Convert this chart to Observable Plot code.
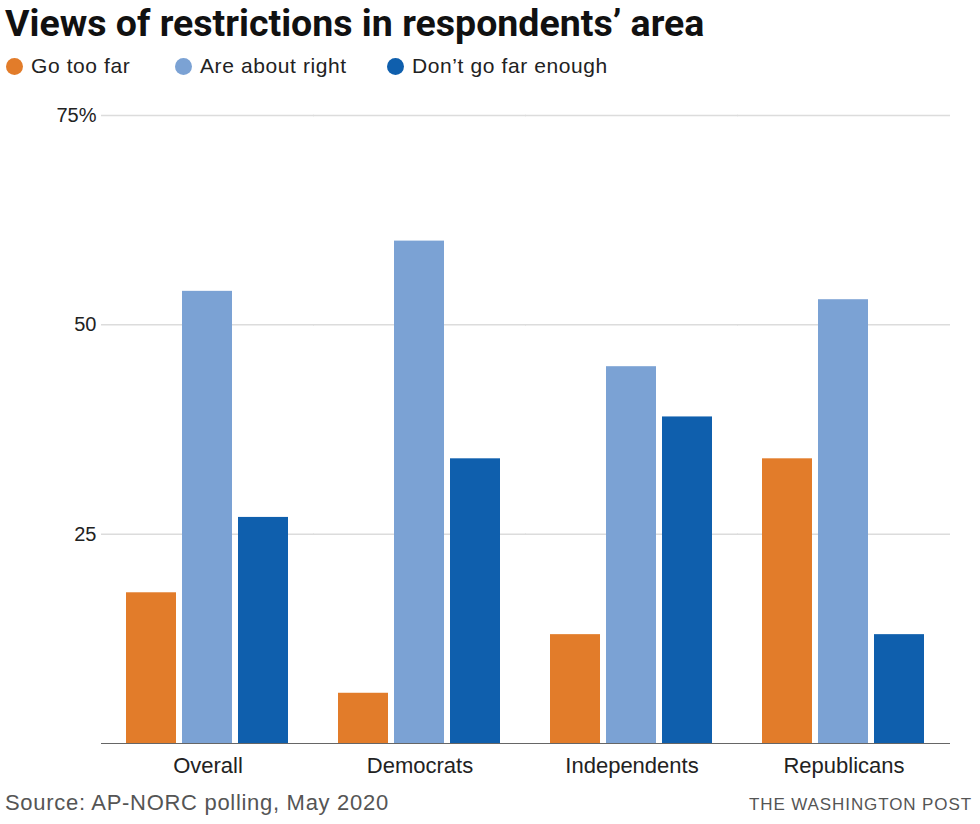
<!DOCTYPE html>
<html>
<head>
<meta charset="utf-8">
<script src="https://cdn.jsdelivr.net/npm/d3@7"></script>
<script src="https://cdn.jsdelivr.net/npm/@observablehq/plot@0.6"></script>
<style>
  body { margin: 0; background: #fff; font-family: "Liberation Sans", Arial, sans-serif; color: #222; }
  #wrap { width: 980px; height: 824px; position: relative; overflow: hidden; }
  #title { position: absolute; left: 5px; top: 0px; font-family: "Roboto", sans-serif; font-weight: bold; font-size: 37.5px; line-height: 46px; color: #111; white-space: nowrap; }
  #legend { position: absolute; left: 6px; top: 52px; height: 28px; display: flex; align-items: center; font-size: 21px; letter-spacing: 0.6px; color: #222; }
  .item { display: flex; align-items: center; white-space: nowrap; }
  .dot { width: 17px; height: 17px; border-radius: 50%; margin-right: 8px; flex: none; }
  #chart { position: absolute; left: 0; top: 95px; }
  #source { position: absolute; left: 5px; top: 790px; font-size: 22px; letter-spacing: 0.7px; color: #555; }
  #credit { position: absolute; right: 8px; top: 795px; font-size: 17px; color: #555; letter-spacing: 0.9px; }
</style>
</head>
<body>
<div id="wrap">
  <div id="title">Views of restrictions in respondents’ area</div>
  <div id="legend"></div>
  <div id="chart"></div>
  <div id="source">Source: AP-NORC polling, May 2020</div>
  <div id="credit">THE WASHINGTON POST</div>
</div>
<script>
const groups = ["Overall", "Democrats", "Independents", "Republicans"];
const series = ["Go too far", "Are about right", "Don’t go far enough"];
const goTooFar = [18, 6, 13, 34];
const aboutRight = [54, 60, 45, 53];
const notFarEnough = [27, 34, 39, 13];
const yTicks = [25, 50, 75];
const colors = ["#e27c2a", "#7ba2d4", "#0f5fad"];
const legendWidths = [169, 212, 300];

const values = [goTooFar, aboutRight, notFarEnough];
const data = [];
groups.forEach((g, i) => {
  series.forEach((s, j) => data.push({group: g, series: s, value: values[j][i]}));
});

const legend = document.getElementById("legend");
series.forEach((s, j) => {
  const it = document.createElement("div");
  it.className = "item";
  it.style.width = legendWidths[j] + "px";
  const d = document.createElement("span");
  d.className = "dot";
  d.style.background = colors[j];
  it.appendChild(d);
  it.appendChild(document.createTextNode(s));
  legend.appendChild(it);
});

const ext = -25; // extend rules across the gaps between facets
const chart = Plot.plot({
  width: 980,
  height: 693,
  marginLeft: 102,
  marginRight: 30,
  marginTop: 20,
  marginBottom: 45,
  style: {fontFamily: "Liberation Sans, Arial, sans-serif", fontSize: "20px", color: "#222", background: "#fff"},
  fx: {domain: groups, paddingInner: 0.23, paddingOuter: 0.115, label: null, axis: null},
  x: {domain: series, axis: null, paddingInner: 0.1, paddingOuter: 0},
  y: {domain: [0, 75], axis: null},
  color: {domain: series, range: colors},
  marks: [
    Plot.ruleY(yTicks, {stroke: "#dcdcdc", strokeWidth: 1.5, insetLeft: ext, insetRight: ext}),
    Plot.barY(data, {fx: "group", x: "series", y: "value", fill: "series"}),
    Plot.ruleY([0], {stroke: "#666", strokeWidth: 1.2, insetLeft: ext, insetRight: ext}),
    Plot.axisY(yTicks, {tickSize: 0, tickPadding: 30, fontSize: 20, fill: "#222", label: null, tickFormat: d => d === 75 ? "75%" : String(d)}),
    Plot.axisFx({anchor: "bottom", tickSize: 0, tickPadding: 14, fontSize: 22, fill: "#222", label: null})
  ]
});
document.getElementById("chart").appendChild(chart);
</script>
</body>
</html>
